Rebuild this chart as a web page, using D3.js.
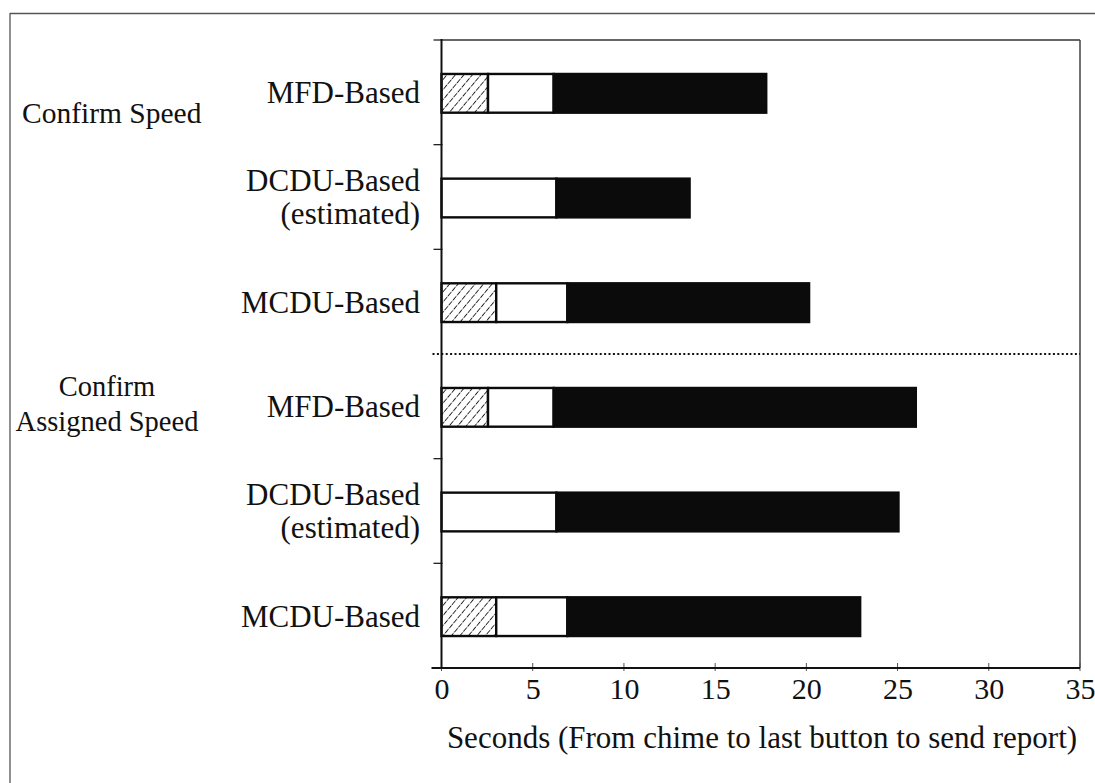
<!DOCTYPE html>
<html><head><meta charset="utf-8">
<script src="https://cdn.jsdelivr.net/npm/d3@7"></script>
<style>
html,body{margin:0;padding:0;background:#fff;}
svg text{font-family:"Liberation Serif","Times New Roman",serif;fill:#111;}
</style></head>
<body>
<svg id="chart" width="1095" height="783"></svg>
<script>
// ---- data ----
const rowIds = ["cs_mfd","cs_dcdu","cs_mcdu","cas_mfd","cas_dcdu","cas_mcdu"];
const rowLabels = [["MFD-Based"],["DCDU-Based","(estimated)"],["MCDU-Based"],["MFD-Based"],["DCDU-Based","(estimated)"],["MCDU-Based"]];
const groupLabels = [["Confirm Speed"],["Confirm","Assigned Speed"]];
// segment durations (seconds): hatched, white, black
const hatchedSeg = [2.55, 0, 3.0, 2.55, 0, 3.0];
const whiteSeg   = [3.6, 6.3, 3.9, 3.6, 6.3, 3.9];
const blackSeg   = [11.65, 7.3, 13.25, 19.85, 18.75, 16.05];
const xTicks = [0,5,10,15,20,25,30,35];
const xTitle = "Seconds (From chime to last button to send report)";

// ---- layout ----
const svg = d3.select("#chart");
const L = 441.5, R = 1080, T = 40, B = 668;
const FS = 30;
const x = d3.scaleLinear().domain([0,35]).range([L,R]);
const y = d3.scaleBand().domain(rowIds).range([T,B]).paddingInner(0.63).paddingOuter(0.315);

const defs = svg.append("defs");
const pat = defs.append("pattern").attr("id","hatch").attr("patternUnits","userSpaceOnUse")
  .attr("width",6.5).attr("height",6.5).attr("patternTransform","rotate(40)");
pat.append("rect").attr("width",6.5).attr("height",6.5).attr("fill","#fff");
pat.append("line").attr("x1",0).attr("y1",0).attr("x2",0).attr("y2",6.5)
  .attr("stroke","#000").attr("stroke-width",1.6).attr("stroke-dasharray","4,1.2");

// outer frame (top and left only)
svg.append("line").attr("x1",10).attr("y1",13.5).attr("x2",1095).attr("y2",13.5).attr("stroke","#555").attr("stroke-width",1.3);
svg.append("line").attr("x1",10).attr("y1",13).attr("x2",10).attr("y2",783).attr("stroke","#555").attr("stroke-width",1.3);

// plot frame top/right
svg.append("line").attr("x1",L).attr("y1",T).attr("x2",R).attr("y2",T).attr("stroke","#333").attr("stroke-width",1.5);
svg.append("line").attr("x1",R).attr("y1",T).attr("x2",R).attr("y2",B).attr("stroke","#444").attr("stroke-width",1.5);

// bars
const data = rowIds.map((id,i)=>({id, segs:[
  {k:"h", x0:0, x1:hatchedSeg[i]},
  {k:"w", x0:hatchedSeg[i], x1:hatchedSeg[i]+whiteSeg[i]},
  {k:"b", x0:hatchedSeg[i]+whiteSeg[i], x1:hatchedSeg[i]+whiteSeg[i]+blackSeg[i]}
].filter(s=>s.x1>s.x0)}));
const g = svg.append("g");
data.forEach(d=>{
  g.selectAll(null).data(d.segs).enter().append("rect")
    .attr("x",s=>x(s.x0)).attr("width",s=>x(s.x1)-x(s.x0))
    .attr("y",y(d.id)+1).attr("height",y.bandwidth())
    .attr("fill",s=>s.k==="h"?"url(#hatch)":(s.k==="w"?"#fff":"#0b0b0b"))
    .attr("stroke","#0b0b0b").attr("stroke-width",2.4);
});

// dotted separator between groups
const sepY = T + y.step()*3;
svg.append("line").attr("x1",L-9).attr("x2",R).attr("y1",sepY).attr("y2",sepY)
  .attr("stroke","#111").attr("stroke-width",2.2).attr("stroke-dasharray","2,2.4");

// y axis ticks at band boundaries
const yTickPos = d3.range(1,6).filter(i=>i!==3).map(i=>T+y.step()*i);
svg.selectAll(null).data(yTickPos).enter().append("line")
  .attr("x1",L-8).attr("x2",L+1).attr("y1",d=>d).attr("y2",d=>d).attr("stroke","#222").attr("stroke-width",1.3);
svg.append("line").attr("x1",L-8).attr("x2",L).attr("y1",T).attr("y2",T).attr("stroke","#222").attr("stroke-width",1.3);

// x axis
const xAxis = svg.append("g").attr("transform",`translate(0,${B})`)
  .call(d3.axisBottom(x).tickValues(xTicks).tickSize(0).tickPadding(10).tickFormat(d3.format("d")));
xAxis.select(".domain").remove();
xAxis.selectAll("text").attr("font-size",FS).attr("dy","0.71em").style("font-family","Liberation Serif").style("fill","#111");
svg.selectAll(null).data(xTicks).enter().append("line")
  .attr("x1",d=>x(d)).attr("x2",d=>x(d)).attr("y1",B-5).attr("y2",B+3).attr("stroke","#555").attr("stroke-width",1);
svg.append("line").attr("x1",L-10).attr("x2",R).attr("y1",B).attr("y2",B).attr("stroke","#111").attr("stroke-width",2);
svg.append("line").attr("x1",L).attr("x2",L).attr("y1",T-1).attr("y2",B+1).attr("stroke","#111").attr("stroke-width",2);

svg.append("text").attr("x",762).attr("y",748).attr("text-anchor","middle").attr("font-size",31).text(xTitle);

// row labels
rowIds.forEach((id,i)=>{
  const cy = y(id)+y.bandwidth()/2;
  const lines = rowLabels[i];
  const lh = 33;
  lines.forEach((t,j)=>{
    svg.append("text").attr("x",420).attr("y",cy + (j-(lines.length-1)/2)*lh).attr("dy","0.35em")
      .attr("text-anchor","end").attr("font-size",31).text(t);
  });
});

// group labels
svg.append("text").attr("x",22).attr("y",113).attr("dy","0.35em").attr("font-size",29.5).text(groupLabels[0][0]);
groupLabels[1].forEach((t,j)=>{
  svg.append("text").attr("x",107).attr("y",386+j*35).attr("dy","0.35em").attr("text-anchor","middle").attr("font-size",28.5).text(t);
});
</script>
</body></html>
